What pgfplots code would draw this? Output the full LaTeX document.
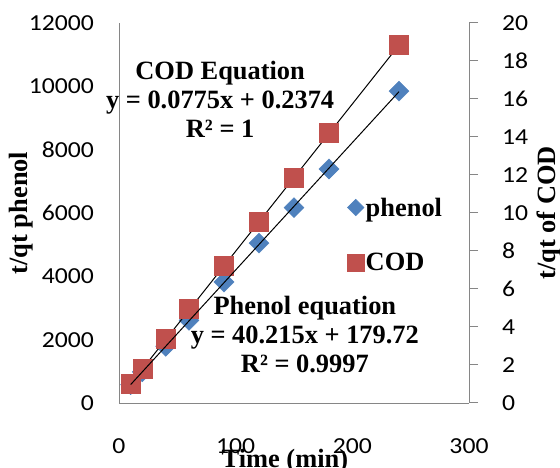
\documentclass[border=0pt]{standalone}
\usepackage{pgfplots}
\pgfplotsset{compat=1.18}
\usepackage{fontspec}
\setmainfont{Liberation Serif}
\newfontfamily\carlito[FakeStretch=1.12]{Carlito}
\definecolor{phblue}{HTML}{4F81BD}
\definecolor{codred}{HTML}{C0504D}
\definecolor{axgray}{HTML}{868686}
\pgfplotstableread{
x y
10 580
20 985
40 1790
60 2610
90 3820
120 5050
150 6170
180 7390
240 9850
}\phenoldata
\pgfplotstableread{
x y
10 1.00
20 1.82
40 3.36
60 4.94
90 7.25
120 9.53
150 11.88
180 14.20
240 18.84
}\coddata
\newcommand{\lblfont}{\bfseries\fontsize{26.5}{29}\selectfont}
\newcommand{\tickfont}{\carlito\fontsize{23}{27}\selectfont}
\begin{document}
\begin{tikzpicture}
\useasboundingbox (0,0) rectangle (560bp,468bp);
% left axis (phenol)
\begin{axis}[
  at={(119bp,65bp)}, anchor=south west, scale only axis,
  width=350bp, height=380bp,
  xmin=0, xmax=300, ymin=0, ymax=12000,
  axis x line*=bottom, axis y line*=left,
  axis line style={axgray, line width=1bp},
  xtick={0,100,200,300}, ytick={0,2000,...,12000},
  major tick length=0pt,
  /pgf/number format/assume math mode=true,
  /pgf/number format/1000 sep={},
  tick label style={font=\tickfont, inner sep=0pt},
  xticklabel style={anchor=north, yshift=-35bp},
  yticklabel style={anchor=east, xshift=-25bp},
  scaled y ticks=false,
  xlabel={Time (min)},
  xlabel style={font=\lblfont, at={(axis description cs:0.474,-0.171)}, anchor=base, inner sep=0pt},
  ylabel={t/qt phenol},
  ylabel style={font=\lblfont, at={(axis description cs:-0.28,0.5)}, anchor=center, inner sep=0pt},
  clip=false,
]
\addplot[only marks, mark=square*, mark size=7.1bp, mark options={rotate=45, fill=phblue, draw=phblue}] table[x=x,y=y] {\phenoldata};
\end{axis}
% right axis (COD)
\begin{axis}[
  at={(119bp,65bp)}, anchor=south west, scale only axis,
  width=350bp, height=380bp,
  xmin=0, xmax=300, ymin=0, ymax=20,
  axis x line=none, axis y line*=right,
  axis line style={axgray, line width=1bp},
  ytick={0,2,...,20},
  tick align=outside, major tick length=9bp,
  tick style={axgray, line width=1bp},
  /pgf/number format/assume math mode=true,
  tick label style={font=\tickfont, inner sep=0pt},
  yticklabel style={anchor=west, xshift=24bp},
  ylabel={t/qt of COD},
  ylabel style={font=\lblfont, at={(axis description cs:1.2286,0.5)}, anchor=center, inner sep=0pt},
  clip=false,
  legend style={draw=none, fill=none, font=\lblfont, at={(axis description cs:0.643,0.55)}, anchor=north west, row sep=33bp, nodes={inner sep=1.5bp}},
  legend cell align=left,
  legend image code/.code={\draw[#1] plot coordinates {(0bp,0bp)};},
]
\addlegendimage{only marks, mark=square*, mark size=5.9bp, mark options={rotate=45, fill=phblue, draw=phblue}}
\addlegendentry{phenol}
\addlegendimage{only marks, mark=square*, mark size=8.5bp, mark options={fill=codred, draw=codred}}
\addlegendentry{COD}
\addplot[only marks, mark=square*, mark size=9.5bp, mark options={fill=codred, draw=codred}, forget plot] table[x=x,y=y] {\coddata};
\addplot[black, line width=1bp, no marks, forget plot] coordinates {(10,1.0124) (240,18.8374)};
\node[font=\lblfont, align=center, inner sep=0pt] at (rel axis cs:0.289,0.80) {COD Equation\\y = 0.0775x + 0.2374\\R² = 1};
\node[font=\lblfont, align=center, inner sep=0pt] at (rel axis cs:0.531,0.18) {Phenol equation\\y = 40.215x + 179.72\\R² = 0.9997};
\end{axis}
% phenol trendline on top
\begin{axis}[
  at={(119bp,65bp)}, anchor=south west, scale only axis,
  width=350bp, height=380bp,
  xmin=0, xmax=300, ymin=0, ymax=12000, hide axis,
]
\addplot[black, line width=1bp, no marks] coordinates {(10,581.87) (240,9831.32)};
\end{axis}
\end{tikzpicture}
\end{document}
